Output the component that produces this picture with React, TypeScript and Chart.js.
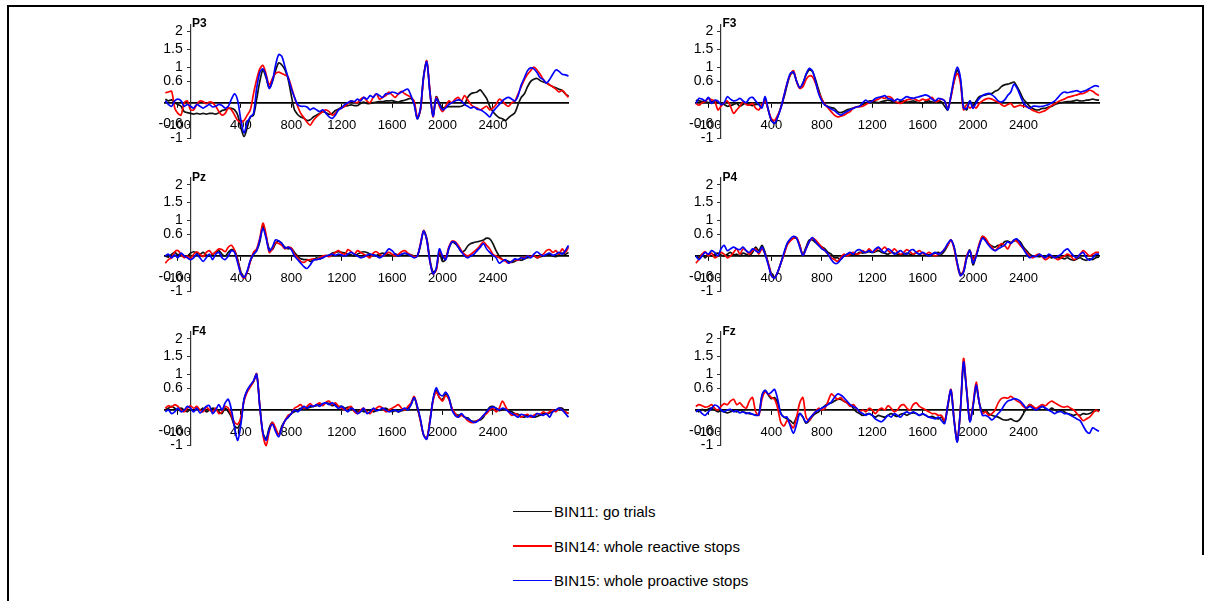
import React, { useEffect, useRef } from "react";
import { Chart, registerables } from "chart.js";

Chart.register(...registerables);

// ---------- DATA ----------
const timesMs = [
  -200, -175, -150, -125, -100, -75, -50, -25, 0, 25, 50, 75, 100, 125, 150, 175, 200, 225, 250, 275,
  300, 325, 350, 375, 400, 425, 450, 475, 500, 525, 550, 575, 600, 625, 650, 675, 700, 725, 750, 775,
  800, 825, 850, 875, 900, 925, 950, 975, 1000, 1025, 1050, 1075, 1100, 1125, 1150, 1175, 1200, 1225,
  1250, 1275, 1300, 1325, 1350, 1375, 1400, 1425, 1450, 1475, 1500, 1525, 1550, 1575, 1600, 1625, 1650,
  1675, 1700, 1725, 1750, 1775, 1800, 1825, 1850, 1875, 1900, 1925, 1950, 1975, 2000, 2025, 2050, 2075,
  2100, 2125, 2150, 2175, 2200, 2225, 2250, 2275, 2300, 2325, 2350, 2375, 2400, 2425, 2450, 2475, 2500,
  2525, 2550, 2575, 2600, 2625, 2650, 2675, 2700, 2725, 2750, 2775, 2800, 2825, 2850, 2875, 2900, 2925,
  2950, 2975, 3000,
];

const xTickValues = [-100, 400, 800, 1200, 1600, 2000, 2400];
const yTickValues = [2, 1.5, 1, 0.6, -0.6, -1];
const seriesNames = ["BIN11: go trials", "BIN14: whole reactive stops", "BIN15: whole proactive stops"];

const p3Go = [0.1,0.05,0.08,0,-0.05,-0.1,-0.25,-0.28,-0.3,
  -0.32,-0.3,-0.32,-0.3,-0.32,-0.3,-0.3,-0.32,
  -0.28,-0.22,-0.2,-0.16,-0.16,-0.2,-0.35,-0.7,
  -0.95,-0.7,-0.4,-0.35,0.1,0.6,0.92,0.7,
  0.42,0.6,0.9,1.12,1.06,0.92,0.66,0.2,
  -0.2,-0.33,-0.4,-0.44,-0.5,-0.48,-0.4,-0.35,
  -0.3,-0.25,-0.28,-0.33,-0.3,-0.22,-0.18,-0.12,
  -0.1,-0.08,-0.06,-0.08,-0.08,-0.02,0.02,-0.02,
  -0.02,0,0.02,0.03,0.03,0.05,0.05,0.06,
  0.03,0.02,0.05,0.07,0.1,0.12,0,-0.45,
  -0.2,0.75,1.15,0.3,-0.35,0.17,0,-0.15,
  -0.12,-0.11,-0.11,-0.11,-0.11,-0.1,-0.05,0.15,
  0.25,0.28,0.3,0.36,0.25,0.12,-0.1,-0.25,
  -0.35,-0.42,-0.45,-0.5,-0.42,-0.35,-0.28,-0.05,
  0.15,0.25,0.45,0.6,0.66,0.68,0.62,0.58,
  0.56,0.5,0.45,0.42,0.38,0.34,0.25,0.18];
const p3Reactive = [0.28,0.3,0.32,-0.15,-0.3,-0.35,0,0.05,-0.2,
  -0.2,-0.05,0.05,0.03,-0.03,0.02,0,-0.1,
  -0.25,-0.35,-0.3,-0.15,-0.2,-0.35,-0.5,-0.55,
  -0.5,-0.35,-0.2,0.25,0.65,0.95,1.05,0.8,
  0.5,0.68,0.82,0.86,0.82,0.78,0.72,0.45,
  0.15,-0.1,-0.3,-0.42,-0.55,-0.63,-0.5,-0.4,
  -0.32,-0.25,-0.2,-0.25,-0.35,-0.3,-0.2,-0.15,
  -0.1,-0.02,0.05,0.02,0,0.1,0.15,0.05,
  0,0.15,0.25,0.1,0.15,0.2,0.3,0.22,
  0.15,0.25,0.32,0.25,0.2,0.15,0.05,-0.4,
  -0.2,0.7,1.18,0.35,-0.4,0.15,-0.1,-0.25,
  -0.1,0.05,0,0.1,0.15,0.05,0.2,0.08,
  -0.05,-0.12,-0.15,-0.2,-0.15,-0.1,-0.2,-0.15,
  -0.05,0.1,0.05,-0.05,-0.1,0,0.05,0.25,
  0.45,0.65,0.8,0.9,1.0,0.92,0.8,0.65,
  0.55,0.5,0.45,0.38,0.3,0.35,0.25,0.15];
const p3Proactive = [0.05,-0.05,-0.1,0.05,0.1,0.05,-0.1,-0.05,-0.1,
  -0.15,-0.05,-0.1,-0.15,-0.1,-0.05,-0.12,-0.1,
  -0.05,-0.08,-0.15,-0.1,0.1,0.25,0.05,-0.5,
  -0.85,-0.55,-0.4,-0.3,0.4,0.85,0.95,0.75,
  0.4,0.6,1.05,1.35,1.3,1.0,0.7,0.4,
  0.15,-0.05,-0.1,-0.1,-0.12,-0.2,-0.15,-0.2,
  -0.25,-0.2,-0.3,-0.4,-0.44,-0.35,-0.2,-0.15,
  -0.05,0,0.05,0.03,0.1,0.05,0.15,0.1,
  0.2,0.15,0.25,0.2,0.15,0.25,0.25,0.3,
  0.28,0.25,0.3,0.35,0.38,0.2,-0.05,-0.45,
  -0.15,0.72,1.15,0.3,-0.38,0.12,-0.05,-0.2,
  -0.15,-0.05,0,0.05,0.08,0.05,-0.05,-0.1,
  -0.15,-0.12,-0.18,-0.2,-0.25,-0.32,-0.4,-0.25,
  -0.15,-0.05,0.05,0.12,0.15,0.1,0.05,0.2,
  0.5,0.7,0.9,0.98,0.95,0.85,0.7,0.65,
  0.55,0.65,0.8,0.92,0.88,0.8,0.78,0.75];

const f3Go = [0.07,0.05,0.03,0.03,0,0.03,0.05,0,-0.02,
  -0.05,-0.1,-0.08,-0.05,-0.02,-0.1,-0.05,0,
  -0.05,-0.08,-0.05,-0.05,-0.1,0.1,-0.2,-0.5,
  -0.58,-0.4,-0.12,0.15,0.5,0.78,0.85,0.6,
  0.42,0.55,0.78,0.92,0.88,0.65,0.36,0.1,
  -0.05,-0.11,-0.14,-0.16,-0.25,-0.28,-0.25,-0.2,
  -0.18,-0.15,-0.12,-0.1,-0.05,-0.02,0.05,0.05,
  0.02,0,0.03,0.05,0.07,0.05,0.02,0,
  0.03,0.05,0.02,0.03,0.05,0.02,0,-0.02,
  0.03,0.05,0.02,0.03,0.05,0.02,-0.1,-0.2,
  0.2,0.6,0.92,0.65,-0.1,-0.2,0.05,-0.1,
  0.05,0.17,0.2,0.22,0.25,0.26,0.32,0.36,
  0.45,0.5,0.52,0.55,0.58,0.45,0.28,0.1,
  0,-0.1,-0.16,-0.2,-0.2,-0.16,-0.16,-0.12,
  -0.1,-0.05,-0.02,0,0.02,0.03,0.03,0.05,
  0.07,0.05,0.05,0.07,0.08,0.1,0.08,0.07];
const f3Reactive = [-0.02,-0.07,0,0.03,0.12,0.08,0.05,-0.2,-0.1,
  0,0.05,-0.1,-0.3,-0.2,-0.1,0.03,-0.05,
  -0.07,-0.02,-0.15,-0.2,-0.05,0.05,-0.2,-0.45,
  -0.5,-0.35,-0.15,0.2,0.55,0.78,0.9,0.6,
  0.4,0.45,0.65,0.75,0.73,0.55,0.3,0.1,
  -0.05,-0.15,-0.25,-0.35,-0.4,-0.38,-0.35,-0.3,
  -0.25,-0.15,-0.12,-0.11,-0.1,-0.05,0,0.05,
  0.07,0.1,0.15,0.12,0.17,0.15,0.05,0,
  -0.02,0.03,0.08,0.1,0.12,0.08,0.05,0.1,
  0.07,0.1,0.15,0.03,0.05,0.1,0.05,-0.15,
  0.15,0.6,0.82,0.55,-0.2,-0.05,-0.15,-0.1,
  -0.15,-0.02,0.05,0.1,0.12,0.1,0.05,0.02,
  -0.05,-0.1,-0.05,-0.02,-0.12,-0.1,-0.07,-0.1,
  -0.11,-0.16,-0.22,-0.25,-0.28,-0.25,-0.22,-0.15,
  -0.08,-0.03,0.03,0.07,0.1,0.15,0.17,0.2,
  0.22,0.25,0.26,0.3,0.35,0.32,0.25,0.2];
const f3Proactive = [-0.02,0.12,0.1,0.05,0.15,-0.02,0.07,0.05,-0.05,
  0,0.17,0.1,0.05,0.07,0.12,0.05,0,
  0.12,0.15,0.05,-0.05,-0.15,0.17,-0.2,-0.5,
  -0.58,-0.4,-0.15,0.2,0.55,0.82,0.86,0.6,
  0.42,0.55,0.8,0.96,0.9,0.6,0.25,0.05,
  -0.07,-0.12,-0.18,-0.22,-0.3,-0.35,-0.3,-0.25,
  -0.2,-0.16,-0.12,-0.1,0,0.07,0,0.05,
  0.12,0.15,0.17,0.2,0.12,0.1,0.05,0.1,
  0.07,0.12,0.17,0.14,0.12,0.15,0.17,0.2,
  0.22,0.18,0.1,0.05,0.12,0.1,0.05,-0.2,
  0.2,0.7,1.0,0.7,-0.15,-0.16,0.05,-0.16,
  0,0.12,0.2,0.24,0.26,0.22,0.15,0.05,
  0.02,0.07,0.2,0.3,0.52,0.4,0.2,0,
  -0.1,-0.16,-0.1,-0.1,-0.11,-0.1,-0.08,-0.05,
  0,0.05,0.15,0.25,0.3,0.28,0.3,0.32,
  0.34,0.3,0.32,0.35,0.4,0.45,0.48,0.45];

const pzGo = [0,-0.03,0.05,0.1,0.03,0.07,-0.02,0,0.08,
  0.12,0.08,0.05,0.1,0.03,0,0.05,0.1,
  0.15,0.05,0,0.1,0.18,0.15,-0.1,-0.45,
  -0.6,-0.45,-0.15,0.05,0.15,0.4,0.85,0.55,
  0.2,0.18,0.35,0.42,0.35,0.25,0.2,0.22,
  0.1,0,-0.08,-0.1,-0.1,-0.15,-0.12,-0.05,
  -0.08,-0.05,0,0.03,0.08,0.1,0.12,0.1,
  0.08,0.05,0.03,0,0.05,0.1,0.12,0.1,
  0.05,0.03,0.02,0.05,0.08,0.05,0.03,0.02,
  0.05,0.03,0.05,0.07,0.05,0.03,0,0,
  0.3,0.7,0.5,-0.1,-0.45,-0.38,0.1,-0.15,
  -0.1,0.2,0.38,0.35,0.25,0.12,0.15,0.28,
  0.35,0.38,0.4,0.42,0.45,0.5,0.48,0.35,
  0.15,0,-0.1,-0.12,-0.15,-0.18,-0.15,-0.1,
  -0.12,-0.08,-0.05,-0.03,0,-0.05,-0.02,0,
  0.03,0.05,0,-0.02,0.05,0.08,0.05,0.1];
const pzReactive = [-0.2,-0.1,-0.05,0.12,0.15,0.05,-0.05,0,-0.08,
  0.05,0.12,0.05,-0.02,0.1,0.15,0.05,0.12,
  0.2,0.18,0.12,0.25,0.3,0.15,-0.15,-0.5,
  -0.62,-0.45,-0.15,0.1,0.2,0.5,0.92,0.6,
  0.1,0.2,0.38,0.35,0.3,0.2,0.25,0.22,
  0.05,-0.05,-0.15,-0.18,-0.12,-0.1,-0.08,-0.1,
  -0.05,0,0.02,-0.02,0.05,0.1,0.15,0.08,
  0.05,0.18,0.12,0.05,0.15,0.1,0.05,0,
  -0.05,0.08,0.12,0.05,0,0.05,0.1,0.05,
  0,0.05,0.12,0.15,0.08,0.02,-0.02,0,
  0.35,0.72,0.45,-0.15,-0.5,-0.4,0.12,0,
  -0.05,0.25,0.42,0.4,0.3,0.15,0.05,0,
  0.05,0.12,0.2,0.3,0.4,0.3,0.2,0.05,
  0,-0.05,-0.1,-0.15,-0.2,-0.15,-0.1,-0.12,
  -0.05,-0.05,0,-0.02,0.02,-0.05,0,0.05,
  0.15,0.18,0.1,0.15,0.05,0.2,0.1,0.25];
const pzProactive = [0,0.05,-0.05,0.03,-0.05,0.08,0,-0.05,-0.1,
  -0.05,0.05,-0.05,-0.15,-0.05,0.05,-0.1,0.05,
  0.1,-0.05,-0.1,0,0.15,0.1,-0.2,-0.5,
  -0.6,-0.42,-0.12,0.05,0.15,0.45,0.78,0.5,
  0.15,0.25,0.45,0.42,0.35,0.22,0.25,0.18,
  0,-0.1,-0.2,-0.3,-0.35,-0.25,-0.12,-0.1,
  -0.08,-0.05,0,0.02,0.05,0.02,0.05,0.03,
  0,0.05,0.1,0.05,0,-0.05,-0.03,0.02,
  0.05,0.03,0,-0.05,0,0.1,0.2,0.15,
  0.05,0,0.05,0.08,0.05,0,-0.05,0,
  0.32,0.7,0.45,-0.15,-0.5,-0.35,0.2,0,
  -0.1,0.22,0.4,0.38,0.25,0.12,0,-0.05,
  0,0.05,0.15,0.25,0.35,0.2,0.1,0.02,
  -0.05,-0.2,-0.15,-0.1,-0.2,-0.15,-0.08,-0.1,
  -0.05,-0.08,0,-0.05,0.05,0.12,0.05,0,
  0.05,0.08,0.02,0.05,0.1,0.05,0.15,0.3];

const p4Go = [0,-0.05,0.05,-0.05,0.05,0,0.05,0.08,0.03,
  0,0.05,0.1,0.03,0.05,0,0.08,0.05,
  0,0.1,0.25,0.15,0.3,0.1,-0.2,-0.5,
  -0.6,-0.45,-0.2,0.05,0.35,0.45,0.5,0.5,
  0.3,0.05,0.25,0.45,0.45,0.38,0.3,0.25,
  0.2,0.1,0.05,-0.05,-0.05,-0.1,0,0.05,
  0.05,0.03,0.05,0.1,0.08,0.1,0.12,0.1,
  0.12,0.15,0.1,0.08,0.05,0.1,0.08,0.05,
  0.03,0.05,0.08,0.05,0.03,0.1,0.05,0.08,
  0.05,0.03,0.05,0.08,0.1,0.05,0.15,0.3,
  0.45,0.25,-0.2,-0.5,-0.45,-0.05,0.17,-0.25,
  0,0.3,0.55,0.45,0.35,0.28,0.25,0.3,
  0.3,0.4,0.42,0.38,0.42,0.45,0.4,0.25,
  0.15,0.05,0,0,-0.02,0,0,-0.02,
  -0.05,-0.03,-0.05,-0.05,-0.08,-0.05,-0.1,-0.12,
  -0.08,-0.05,-0.1,-0.12,-0.08,-0.1,-0.05,-0.03];
const p4Reactive = [-0.2,-0.1,0.05,0.12,0,0.08,-0.05,0,0.1,
  0.05,-0.05,0,0.1,0.2,0.05,0.2,0.15,
  0.05,0.15,0.2,0.05,0.2,0.05,-0.2,-0.55,
  -0.62,-0.45,-0.2,0.05,0.3,0.42,0.5,0.52,
  0.3,0.02,0.2,0.4,0.5,0.45,0.35,0.25,
  0.15,0.05,-0.05,-0.1,-0.15,-0.05,0.05,0,
  0.05,0.1,0.05,0.08,0.15,0.1,0.2,0.12,
  0.15,0.22,0.18,0.25,0.15,0.1,0.2,0.12,
  0.05,0.1,0.18,0.12,0.05,0.1,0.15,0.08,
  0.05,0.1,0.05,0,0.05,0.1,0.2,0.3,
  0.45,0.2,-0.25,-0.55,-0.4,0,0.15,-0.1,
  0.05,0.35,0.55,0.5,0.35,0.25,0.15,0.25,
  0.35,0.3,0.2,0.35,0.45,0.4,0.3,0.2,
  0.1,0,-0.05,0.02,0.05,-0.02,-0.1,-0.05,
  0,-0.05,-0.1,-0.05,0,0.05,0,-0.1,
  -0.05,0.05,0.15,0.08,0,0.05,0.1,0.1];
const p4Proactive = [0,-0.1,0,0.1,0.05,0.15,0.1,0,0.2,
  0.3,0.15,0.2,0.25,0.2,0.18,0.25,0.15,
  0.1,0.2,0.15,0.1,0.25,0.05,-0.25,-0.55,
  -0.62,-0.45,-0.2,0.1,0.35,0.48,0.55,0.5,
  0.25,0.02,0.2,0.4,0.52,0.4,0.3,0.2,
  0.15,0.05,-0.1,-0.2,-0.2,-0.1,0,0.05,
  0.1,0.05,0.15,0.18,0.12,0.1,0.15,0.1,
  0.2,0.25,0.15,0.1,0.2,0.15,0.05,0.1,
  0.15,0.08,0.05,0.15,0.18,0.1,0.05,0.1,
  0.05,0,0.05,0.1,0.05,0.1,0.2,0.35,
  0.45,0.25,-0.2,-0.55,-0.45,-0.05,0.15,-0.2,
  0,0.3,0.5,0.42,0.3,0.2,0.15,0.2,
  0.25,0.3,0.4,0.35,0.45,0.48,0.35,0.2,
  0.05,-0.05,0,-0.02,0.05,0,-0.05,0.05,
  0,-0.05,0,0.05,0.15,0.2,0.1,0,
  -0.05,0.05,0.1,-0.05,-0.12,-0.05,0.05,0.05];

const f4Go = [0,0.05,0.1,0.05,0,0.05,0,-0.05,0.02,
  -0.02,0.05,0,0.05,-0.05,0,0.05,0.02,
  -0.05,-0.1,0.05,-0.05,-0.2,-0.45,-0.5,-0.3,
  0.3,0.55,0.68,0.8,1.0,0.1,-0.65,-0.8,
  -0.5,-0.35,-0.55,-0.68,-0.45,-0.3,-0.2,-0.1,
  -0.05,0,0.05,0.02,0.05,0.08,0.1,0.12,
  0.15,0.15,0.2,0.18,0.12,0.15,0.1,0.1,
  0.05,0.08,0.05,0,-0.05,0,-0.05,-0.02,
  0,-0.05,-0.02,0,0.02,0.05,0,-0.05,
  -0.02,-0.05,-0.02,0,0.05,0.15,0.35,0.05,
  -0.3,-0.7,-0.8,-0.3,0.3,0.55,0.35,0.3,
  0.45,0.35,0.05,-0.1,-0.15,-0.12,-0.2,-0.22,
  -0.3,-0.32,-0.3,-0.28,-0.2,-0.05,0.08,0.1,
  0.05,-0.02,0,0.02,-0.02,-0.05,-0.1,-0.12,
  -0.18,-0.2,-0.15,-0.18,-0.2,-0.18,-0.15,-0.1,
  -0.12,-0.08,-0.05,0,0.05,0.05,-0.05,-0.1];
const f4Reactive = [0.05,0.12,0.08,0.15,0.1,0,-0.05,0.05,0.12,
  0.05,0.1,0,-0.05,0.08,0,-0.05,0.05,
  -0.1,-0.05,0.1,0.05,-0.15,-0.35,-0.4,-0.2,
  0.25,0.5,0.65,0.8,1.02,0.1,-0.7,-1.0,
  -0.6,-0.35,-0.5,-0.7,-0.5,-0.3,-0.15,-0.1,
  0.05,0.1,0.15,0.05,0.1,0.18,0.1,0.15,
  0.2,0.12,0.22,0.25,0.15,0.2,0.1,0.05,
  0,0.05,0.1,-0.05,-0.1,0,0.05,-0.05,
  -0.1,0,0.05,0.1,0.05,-0.05,0,0.05,
  0.1,0.15,0.05,0,0.1,0.2,0.38,0.1,
  -0.3,-0.7,-0.8,-0.3,0.25,0.5,0.35,0.25,
  0.4,0.3,0.05,-0.1,-0.2,-0.15,-0.2,-0.3,
  -0.35,-0.35,-0.3,-0.25,-0.15,-0.1,0,0.05,
  -0.05,0.05,0.25,0.1,-0.05,-0.15,-0.1,-0.15,
  -0.2,-0.15,-0.12,-0.2,-0.15,-0.1,-0.12,-0.05,
  -0.1,-0.05,0,-0.05,0.05,0,-0.05,-0.1];
const f4Proactive = [-0.05,0,-0.1,-0.05,0.05,-0.05,0,0.1,0.05,
  -0.05,0.05,-0.08,0,0.1,0.12,-0.1,0,
  0.15,0,0.2,0.3,0,-0.5,-0.85,-0.4,
  0.3,0.55,0.7,0.82,1.0,0.1,-0.65,-0.85,
  -0.55,-0.4,-0.6,-0.75,-0.5,-0.3,-0.2,-0.1,
  0,-0.05,0.02,0.1,0.05,0.12,0.1,0.15,
  0.1,0.18,0.2,0.15,0.2,0.12,0.05,0.1,
  0.02,-0.05,0.05,0,-0.1,-0.05,0.05,-0.1,
  -0.05,0.05,-0.02,0,0.05,0,-0.05,-0.02,
  0,-0.05,0,0.05,0,0.15,0.35,0.1,
  -0.25,-0.7,-0.82,-0.35,0.3,0.62,0.45,0.4,
  0.5,0.35,0,-0.15,-0.2,-0.1,-0.2,-0.25,
  -0.3,-0.35,-0.32,-0.25,-0.15,-0.05,0.05,0.08,
  0.05,0,0.05,0.02,-0.05,-0.1,-0.15,-0.2,
  -0.12,-0.15,-0.2,-0.15,-0.2,-0.1,-0.12,-0.15,
  -0.1,-0.2,-0.05,0,0.05,0,-0.1,-0.2];

const fzGo = [0,-0.05,0.02,-0.03,0.03,0.05,0,-0.05,-0.02,
  -0.05,-0.08,-0.05,-0.02,-0.05,0,-0.05,-0.08,
  -0.1,-0.12,-0.14,-0.12,0.4,0.55,0.42,0.32,
  0.35,0.2,-0.1,-0.2,-0.25,-0.3,-0.38,-0.2,
  -0.1,-0.2,-0.37,-0.3,-0.18,-0.1,-0.05,0.05,
  0.12,0.18,0.2,0.25,0.3,0.3,0.25,0.2,
  0.15,0.05,-0.05,-0.1,-0.15,-0.12,-0.1,-0.15,
  -0.2,-0.15,-0.18,-0.2,-0.15,-0.1,-0.15,-0.18,
  -0.12,-0.1,-0.15,-0.1,-0.08,-0.1,-0.15,-0.12,
  -0.15,-0.2,-0.18,-0.22,-0.25,-0.2,-0.35,0.1,
  0.55,-0.3,-0.85,0,1.25,0.55,-0.3,0.1,
  0.65,0.2,-0.05,0,-0.1,-0.15,-0.18,-0.2,
  -0.25,-0.28,-0.28,-0.25,-0.3,-0.32,-0.25,-0.1,
  0.05,0.15,0.1,0,0.05,0.1,0.05,0,
  0.05,0,-0.05,0,-0.05,-0.1,-0.12,-0.15,
  -0.12,-0.15,-0.1,-0.12,-0.1,-0.05,-0.02,0];
const fzReactive = [0.1,0.15,0.12,0.08,0.1,0.15,0.05,0,0.1,
  0.18,0.15,0.25,0.3,0.15,0.2,0.1,0.05,
  0.25,0.35,-0.05,-0.15,0.3,0.5,0.45,0.35,
  0.3,0.05,-0.35,-0.45,-0.3,-0.4,-0.5,-0.2,
  0.2,0.35,-0.2,-0.3,-0.15,-0.05,0.05,0,
  0.05,0.25,0.45,0.38,0.3,0.35,0.25,0.2,
  0.1,0.15,0.05,-0.05,0,-0.05,0.05,0,
  -0.1,0,0.05,0,0.12,0.05,-0.05,0,
  0.12,0.15,0.05,0,0.15,0.2,0.1,0.05,
  0,-0.05,-0.1,-0.1,-0.15,-0.15,-0.3,0.15,
  0.58,-0.25,-0.88,0,1.45,0.55,-0.3,0.15,
  0.78,0.2,-0.1,-0.05,-0.15,-0.1,0,0.2,
  0.32,0.35,0.33,0.38,0.32,0.25,0.2,0.1,
  0.05,0.15,0.1,0.05,0.1,0.15,0.12,0.2,
  0.25,0.2,0.15,0.1,0.08,0.1,0.05,0,
  -0.1,-0.2,-0.3,-0.25,-0.2,-0.1,0,-0.05];
const fzProactive = [-0.05,0,-0.1,-0.15,-0.05,0.05,0.14,0.1,0,
  -0.05,0,0.02,-0.05,-0.02,-0.08,-0.05,-0.1,
  -0.08,-0.12,-0.15,-0.14,0.4,0.55,0.45,0.5,
  0.58,0.3,-0.1,-0.2,-0.2,-0.45,-0.65,-0.4,
  -0.1,-0.2,-0.35,-0.25,-0.15,-0.05,0,0.05,
  0.1,0.15,0.22,0.35,0.45,0.42,0.35,0.25,
  0.15,0.1,0.05,-0.05,-0.1,-0.15,-0.1,-0.15,
  -0.25,-0.3,-0.33,-0.25,-0.15,-0.2,-0.1,-0.15,
  -0.2,-0.1,-0.05,-0.1,-0.05,-0.1,-0.15,-0.1,
  -0.15,-0.2,-0.22,-0.25,-0.2,-0.3,-0.38,0.15,
  0.56,-0.3,-0.9,0,1.35,0.5,-0.33,0.1,
  0.7,0.2,-0.15,-0.15,-0.2,-0.28,-0.2,-0.1,
  0,0.15,0.25,0.28,0.32,0.3,0.25,0.15,
  0.05,0.1,0.05,0,0.05,0.1,0.05,0,
  -0.05,-0.1,-0.05,-0.05,-0.1,-0.1,-0.15,-0.2,
  -0.25,-0.3,-0.45,-0.6,-0.65,-0.5,-0.55,-0.6];

// ---------- LAYOUT / STYLE ----------
const SERIES_COLORS = ["#111111", "#ff0000", "#0000ff"];
const COLS = [
  { chartLeft: 165.3, chartRight: 568.5 },
  { chartLeft: 695.8, chartRight: 1099 },
];
const ROW_ZERO = [102.7, 256, 410];
const UNIT_PX = 35.6;
const Y_MIN = -1;
const Y_MAX = 2.2;

const PANELS = [
  { title: "P3", values: [p3Go, p3Reactive, p3Proactive], col: 0, row: 0 },
  { title: "F3", values: [f3Go, f3Reactive, f3Proactive], col: 1, row: 0 },
  { title: "Pz", values: [pzGo, pzReactive, pzProactive], col: 0, row: 1 },
  { title: "P4", values: [p4Go, p4Reactive, p4Proactive], col: 1, row: 1 },
  { title: "F4", values: [f4Go, f4Reactive, f4Proactive], col: 0, row: 2 },
  { title: "Fz", values: [fzGo, fzReactive, fzProactive], col: 1, row: 2 },
];

const AXIS_FONT = "'Liberation Sans', Arial, sans-serif";

type PanelProps = { title: string; values: number[][]; col: number; row: number };

function Panel({ title, values, col, row }: PanelProps) {
  const ref = useRef<HTMLCanvasElement | null>(null);
  const { chartLeft, chartRight } = COLS[col];
  const zero = ROW_ZERO[row];
  const chartTop = zero - Y_MAX * UNIT_PX;
  const chartBottom = zero - Y_MIN * UNIT_PX;
  const cLeft = Math.floor(chartLeft) - 45;
  const cTop = Math.floor(chartTop) - 14;
  const cW = 460;
  const cH = 150;

  useEffect(() => {
    if (!ref.current) return;
    const chart = new Chart(ref.current, {
      type: "line",
      data: {
        datasets: values.map((vals, i) => ({
          label: seriesNames[i],
          data: timesMs.map((t, j) => ({ x: t, y: vals[j] })),
          borderColor: SERIES_COLORS[i],
          backgroundColor: SERIES_COLORS[i],
          borderWidth: 1.7,
          pointRadius: 0,
          tension: 0.3,
          fill: false,
          clip: false as any,
          order: 3 - i,
        })),
      },
      options: {
        responsive: false,
        animation: false,
        devicePixelRatio: 1,
        events: [],
        layout: {
          padding: {
            left: chartLeft - cLeft,
            right: cLeft + cW - chartRight,
            top: chartTop - cTop,
            bottom: cTop + cH - chartBottom,
          },
        },
        plugins: {
          legend: { display: false },
          tooltip: { enabled: false },
          title: { display: false },
        },
        scales: {
          x: {
            type: "linear",
            min: -200,
            max: 3000,
            position: { y: 0 } as any,
            afterBuildTicks: (s: any) => {
              s.ticks = xTickValues.map((v) => ({ value: v }));
            },
            afterFit: (s: any) => {
              s.height = 0;
            },
            ticks: {
              autoSkip: false,
              maxRotation: 0,
              minRotation: 0,
              padding: 11,
              color: "#000",
              font: { family: AXIS_FONT, size: 13 },
              callback: (v: any) => String(v),
            },
            grid: { drawOnChartArea: false, drawTicks: true, tickLength: 4, color: "#000" },
            border: { display: true, color: "#000", width: 1.8 },
          },
          y: {
            type: "linear",
            min: Y_MIN,
            max: Y_MAX,
            position: { x: 0 } as any,
            afterBuildTicks: (s: any) => {
              s.ticks = yTickValues.map((v) => ({ value: v }));
            },
            afterFit: (s: any) => {
              s.width = 0;
            },
            ticks: {
              color: "#000",
              font: { family: AXIS_FONT, size: 14 },
              callback: (v: any) => `${v}  `,
            },
            grid: { drawOnChartArea: false, drawTicks: true, tickLength: 3, color: "#333" },
            border: { display: true, color: "#333", width: 1.2 },
          },
        },
      } as any,
    });
    return () => chart.destroy();
  }, []);

  return (
    <>
      <canvas
        ref={ref}
        width={cW}
        height={cH}
        style={{ position: "absolute", left: cLeft, top: cTop, width: cW, height: cH }}
      />
      <div
        style={{
          position: "absolute",
          left: chartLeft + 200 * ((chartRight - chartLeft) / 3200) + 1.5,
          top: zero - 102.7 + 17.3,
          font: `bold 12px ${AXIS_FONT}`,
          lineHeight: "12px",
          color: "#000",
          whiteSpace: "nowrap",
        }}
      >
        {title}
      </div>
    </>
  );
}

const LEGEND_ROWS_Y = [512, 546.5, 581];

export default function App() {
  return (
    <div
      style={{
        position: "absolute",
        left: 0,
        top: 0,
        width: 1207,
        height: 601,
        background: "#fff",
        overflow: "hidden",
        fontFamily: AXIS_FONT,
      }}
    >
      {/* frame */}
      <div style={{ position: "absolute", left: 7, top: 5, width: 1197, height: 2, background: "#000" }} />
      <div style={{ position: "absolute", left: 7, top: 5, width: 2, height: 596, background: "#000" }} />
      <div style={{ position: "absolute", left: 1202, top: 5, width: 2, height: 550, background: "#000" }} />

      {PANELS.map((p) => (
        <Panel key={p.title} title={p.title} values={p.values} col={p.col} row={p.row} />
      ))}

      {/* legend */}
      {seriesNames.map((name, i) => (
        <div key={name}>
          <div
            style={{
              position: "absolute",
              left: 513,
              top: LEGEND_ROWS_Y[i] - 1.5,
              width: 39,
              height: 1.5,
              background: SERIES_COLORS[i],
            }}
          />
          <div
            style={{
              position: "absolute",
              left: 554,
              top: LEGEND_ROWS_Y[i] - 8.85,
              font: `15px ${AXIS_FONT}`,
              lineHeight: "18px",
              color: "#000",
              whiteSpace: "nowrap",
            }}
          >
            {name}
          </div>
        </div>
      ))}
    </div>
  );
}
